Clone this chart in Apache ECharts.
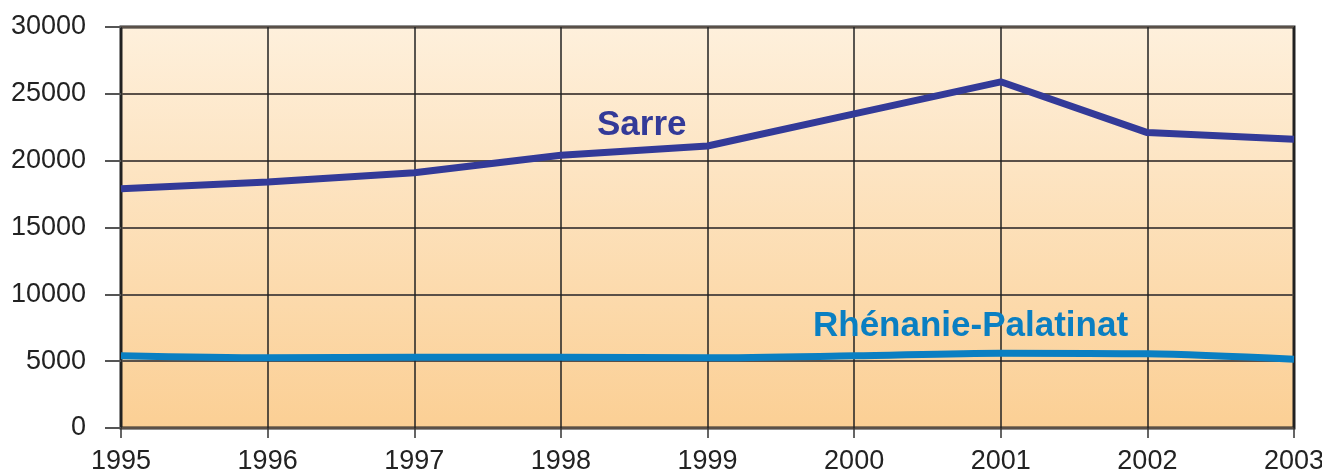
<!DOCTYPE html>
<html>
<head>
<meta charset="utf-8">
<script src="https://cdn.jsdelivr.net/npm/echarts@6/dist/echarts.min.js"></script>
<style>
  html, body { margin: 0; padding: 0; background: #fff; }
  #chart { width: 1322px; height: 469px; }
</style>
</head>
<body>
<div id="chart"></div>
<script>
const years = ['1995', '1996', '1997', '1998', '1999', '2000', '2001', '2002', '2003'];
const sarre = [17900, 18400, 19100, 20400, 21100, 23500, 25900, 22100, 21600];
const rhenanie = [5400, 5250, 5300, 5300, 5250, 5400, 5600, 5550, 5150];

const chart = echarts.init(document.getElementById('chart'));

const option = {
  animation: false,
  grid: {
    left: 121,
    right: 28,
    top: 27,
    bottom: 41,
    outerBoundsMode: 'none',
    containLabel: false,
    show: true,
    borderColor: '#222',
    borderWidth: 3,
    backgroundColor: new echarts.graphic.LinearGradient(0, 0, 0, 1, [
      { offset: 0, color: '#fef0dc' },
      { offset: 1, color: '#fbcf94' }
    ])
  },
  xAxis: {
    type: 'category',
    data: years,
    boundaryGap: false,
    axisLine: { show: false },
    axisTick: { show: true, length: 10, lineStyle: { color: '#333', width: 1.5 } },
    axisLabel: {
      fontFamily: 'Liberation Sans',
      fontSize: 27,
      color: '#222',
      margin: 20,
      showMaxLabel: true,
      showMinLabel: true
    },
    splitLine: { show: true, lineStyle: { color: '#222', width: 1.5 } }
  },
  yAxis: {
    type: 'value',
    min: 0,
    max: 30000,
    interval: 5000,
    axisLine: { show: false },
    axisTick: { show: true, length: 16, lineStyle: { color: '#555', width: 2 } },
    axisLabel: {
      fontFamily: 'Liberation Sans',
      fontSize: 27,
      color: '#222',
      margin: 35,
      formatter: v => String(v)
    },
    splitLine: { show: true, lineStyle: { color: '#5a5048', width: 2 } }
  },
  series: [
    {
      name: 'Sarre',
      type: 'line',
      data: sarre,
      symbol: 'none',
      lineStyle: { color: '#333a98', width: 7 },
      z: 3
    },
    {
      name: 'Rhénanie-Palatinat',
      type: 'line',
      data: rhenanie,
      symbol: 'none',
      smooth: 0.3,
      lineStyle: { color: '#0a7fc2', width: 7 },
      z: 3
    }
  ],
  graphic: [
    {
      type: 'text',
      left: 597,
      top: 108,
      style: {
        text: 'Sarre',
        fontFamily: 'Liberation Sans',
        fontWeight: 'bold',
        fontSize: 35,
        fill: '#333a98'
      },
      z: 10
    },
    {
      type: 'text',
      left: 813,
      top: 309,
      style: {
        text: 'Rhénanie-Palatinat',
        fontFamily: 'Liberation Sans',
        fontWeight: 'bold',
        fontSize: 35,
        fill: '#0a7fc2'
      },
      z: 10
    }
  ]
};

chart.setOption(option);
</script>
</body>
</html>
